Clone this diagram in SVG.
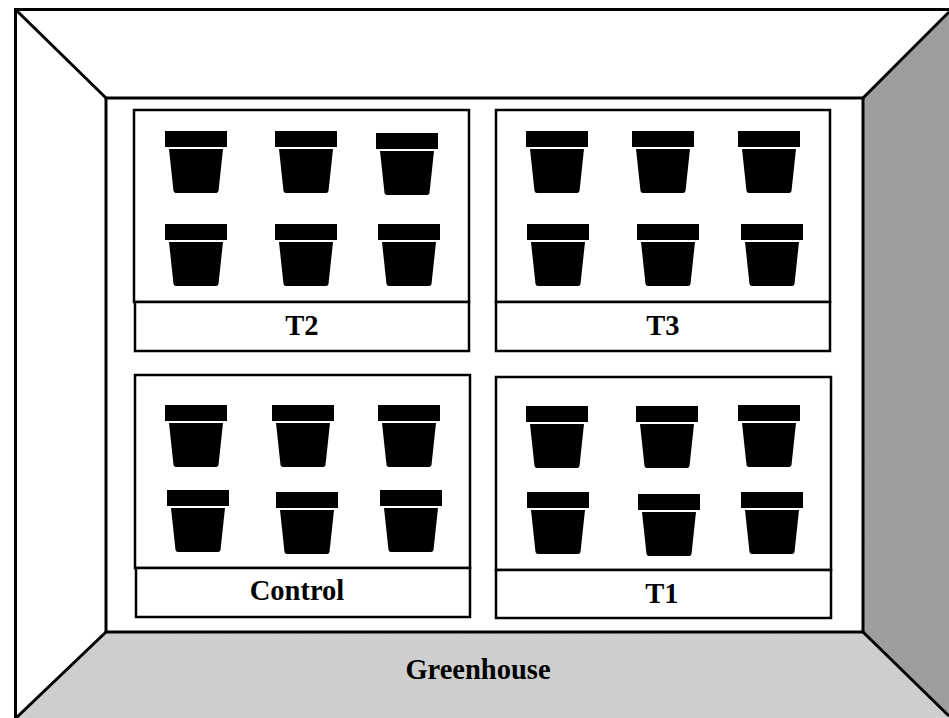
<svg xmlns="http://www.w3.org/2000/svg" width="949" height="718" viewBox="0 0 949 718">
  <style>
    .edge { fill: none; stroke: #000; stroke-width: 3; stroke-linejoin: miter; }
    .box { fill: #fff; stroke: #000; stroke-width: 2.5; }
    .label { font-family: "Liberation Serif", "Times New Roman", serif; font-weight: bold; font-size: 28.5px; text-anchor: middle; fill: #000; }
    .pot { fill: #000; }
  </style>
  <defs>
    <!-- flower pot: rim block over a tapered body -->
    <g id="pot">
      <rect class="pot" x="0" y="0" width="62" height="16"/>
      <path class="pot" d="M4 18 H58 L53.5 60 Q53 62 51 62 H11 Q9 62 8.5 60 Z"/>
    </g>
    <filter id="grain" x="0" y="0" width="100%" height="100%">
      <feTurbulence type="fractalNoise" baseFrequency="0.9" numOctaves="2" seed="3" result="n"/>
      <feColorMatrix in="n" type="matrix" values="0 0 0 0 0  0 0 0 0 0  0 0 0 0 0  0 0 0 0.12 0" result="g"/>
      <feComposite in="g" in2="SourceGraphic" operator="in" result="gm"/>
      <feMerge><feMergeNode in="SourceGraphic"/><feMergeNode in="gm"/></feMerge>
    </filter>
  </defs>

  <rect x="0" y="0" width="949" height="718" fill="#fff"/>

  <!-- room shell -->
  <g id="room">
    <polygon points="863,98 949,12 949,718 863,632" fill="#a3a3a3" filter="url(#grain)"/>
    <polygon points="106,632 863,632 949,716 949,718 16,718" fill="#d4d4d4" filter="url(#grain)"/>
    <rect class="edge" x="15.5" y="9.5" width="940" height="720"/>
    <rect class="edge" x="106" y="98" width="757" height="534"/>
    <line class="edge" x1="16" y1="10" x2="106" y2="98"/>
    <line class="edge" x1="949" y1="12" x2="863" y2="98"/>
    <line class="edge" x1="16" y1="718" x2="106" y2="632"/>
    <line class="edge" x1="949" y1="716" x2="863" y2="632"/>
    <text class="label" x="478" y="679">Greenhouse</text>
  </g>

  <!-- treatment bench T2 -->
  <g id="bench-t2">
    <rect class="box" x="134" y="110" width="335" height="192"/>
    <rect class="box" x="135" y="302" width="334" height="49"/>
    <text class="label" x="302" y="335">T2</text>
    <use href="#pot" x="165" y="131"/>
    <use href="#pot" x="275" y="131"/>
    <use href="#pot" x="376" y="133"/>
    <use href="#pot" x="165" y="224"/>
    <use href="#pot" x="275" y="224"/>
    <use href="#pot" x="378" y="224"/>
  </g>

  <!-- treatment bench T3 -->
  <g id="bench-t3">
    <rect class="box" x="496" y="110" width="334" height="192"/>
    <rect class="box" x="496" y="302" width="334" height="49"/>
    <text class="label" x="663" y="335">T3</text>
    <use href="#pot" x="526" y="131"/>
    <use href="#pot" x="632" y="131"/>
    <use href="#pot" x="738" y="131"/>
    <use href="#pot" x="527" y="224"/>
    <use href="#pot" x="637" y="224"/>
    <use href="#pot" x="741" y="224"/>
  </g>

  <!-- control bench -->
  <g id="bench-control">
    <rect class="box" x="135" y="375" width="335" height="193"/>
    <rect class="box" x="136" y="568" width="334" height="49"/>
    <text class="label" x="297" y="600">Control</text>
    <use href="#pot" x="165" y="405"/>
    <use href="#pot" x="272" y="405"/>
    <use href="#pot" x="378" y="405"/>
    <use href="#pot" x="167" y="490"/>
    <use href="#pot" x="276" y="492"/>
    <use href="#pot" x="380" y="490"/>
  </g>

  <!-- treatment bench T1 -->
  <g id="bench-t1">
    <rect class="box" x="496" y="377" width="335" height="193"/>
    <rect class="box" x="496" y="570" width="335" height="48"/>
    <text class="label" x="662" y="603">T1</text>
    <use href="#pot" x="526" y="406"/>
    <use href="#pot" x="636" y="406"/>
    <use href="#pot" x="738" y="405"/>
    <use href="#pot" x="527" y="492"/>
    <use href="#pot" x="638" y="494"/>
    <use href="#pot" x="741" y="492"/>
  </g>
</svg>
